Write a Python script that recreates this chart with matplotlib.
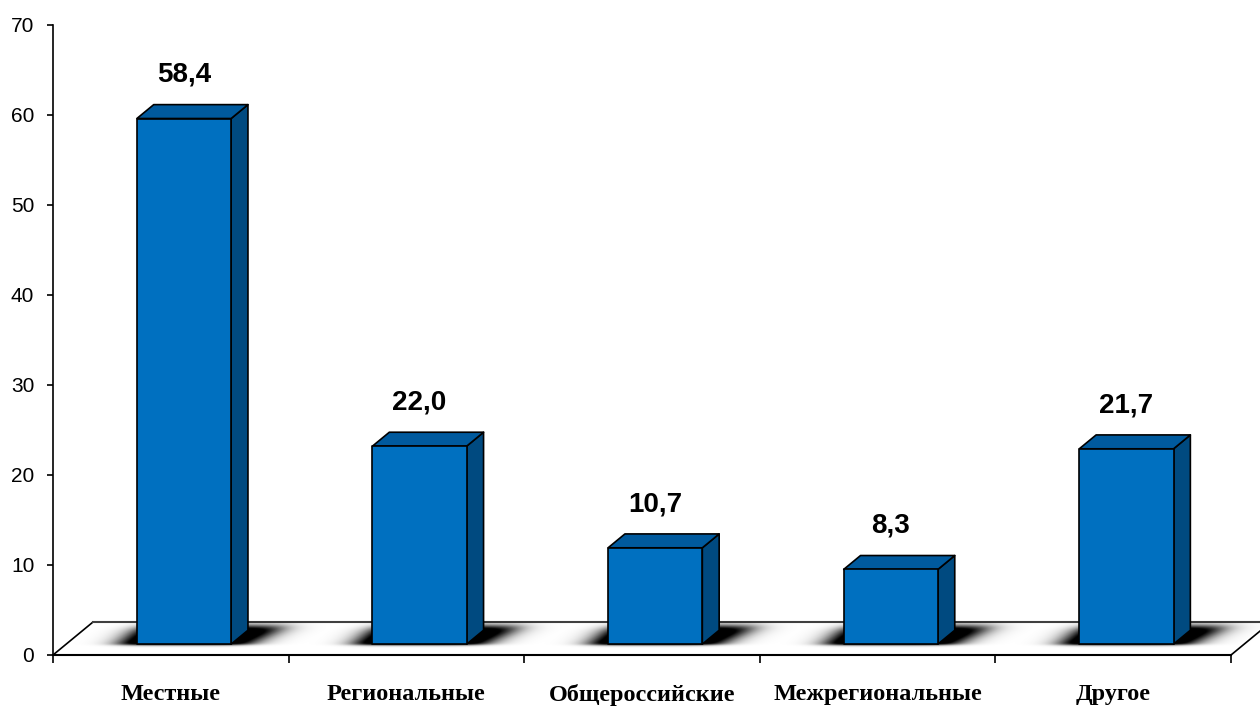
import numpy as np
import matplotlib
matplotlib.use('Agg')
import matplotlib.pyplot as plt
from matplotlib.patches import Polygon
from matplotlib.transforms import Affine2D

categories = ['Местные', 'Региональные', 'Общероссийские', 'Межрегиональные', 'Другое']
values = [58.4, 22.0, 10.7, 8.3, 21.7]
value_labels = ['58,4', '22,0', '10,7', '8,3', '21,7']
y_ticks = [0, 10, 20, 30, 40, 50, 60, 70]

col_front = '#0070c0'
col_top = '#005a9e'
col_side = '#004a80'

# depth of the "3d" floor in data units
DX = 0.17
DY = 3.67
d0, d1 = 0.33, 0.75   # bar front / back depth
half_w = 0.2


def sig(z):
    return 1.0 / (1.0 + np.exp(-z))


def main():
    fig = plt.figure(figsize=(12.6, 7.06), dpi=100)
    ax = fig.add_axes([53 / 1260, 51 / 706, 1178 / 1260, 630 / 706])
    n = len(categories)

    # floor
    floor = Polygon([(0, 0), (n, 0), (n + DX, DY), (DX, DY)], closed=True,
                    facecolor='white', edgecolor='black', linewidth=1.2,
                    zorder=1, clip_on=False)
    ax.add_patch(floor)
    ax.plot([DX, n + DX], [DY, DY], color='#404040', linewidth=1.5, zorder=1.1, clip_on=False)

    # soft shadows on the floor (image in (u, depth) space, sheared onto floor)
    u = np.linspace(0, n + 0.2, 1400)
    d = np.linspace(0, 1, 160)
    U, D = np.meshgrid(u, d)
    alpha = np.zeros_like(U)
    for i in range(n):
        c = i + 0.5
        right = c + 0.27 + 0.12 * (D - 0.3)
        a = sig((U - (c - 0.27)) / 0.035) * sig((right - U) / 0.04)
        a *= sig((D - 0.30) / 0.02) * sig((0.84 - D) / 0.06)
        alpha = np.maximum(alpha, a)
    rgba = np.zeros(U.shape + (4,))
    rgba[..., 3] = np.clip(alpha * 1.5, 0, 1)
    shear = Affine2D(np.array([[1, DX, 0], [0, DY, 0], [0, 0, 1]]))
    ax.imshow(rgba, extent=(u[0], u[-1], 0, 1), origin='lower', aspect='auto',
              interpolation='bilinear', transform=shear + ax.transData,
              zorder=2, clip_on=False)

    # bars
    for i, v in enumerate(values):
        c = i + 0.5
        u0, u1 = c - half_w, c + half_w
        front = [(u0 + d0 * DX, d0 * DY), (u1 + d0 * DX, d0 * DY),
                 (u1 + d0 * DX, v + d0 * DY), (u0 + d0 * DX, v + d0 * DY)]
        top = [(u0 + d0 * DX, v + d0 * DY), (u1 + d0 * DX, v + d0 * DY),
               (u1 + d1 * DX, v + d1 * DY), (u0 + d1 * DX, v + d1 * DY)]
        side = [(u1 + d0 * DX, d0 * DY), (u1 + d1 * DX, d1 * DY),
                (u1 + d1 * DX, v + d1 * DY), (u1 + d0 * DX, v + d0 * DY)]
        for pts, col in [(side, col_side), (top, col_top), (front, col_front)]:
            ax.add_patch(Polygon(pts, closed=True, facecolor=col, edgecolor='black',
                                 linewidth=1.2, joinstyle='round', zorder=3, clip_on=False))
        ax.annotate(value_labels[i], (c + d0 * DX, v + d1 * DY), xytext=(0, 12),
                    textcoords='offset points', ha='center', va='bottom',
                    fontsize=20, fontweight='bold', family='Liberation Sans', zorder=4)

    ax.set_xlim(0, n)
    ax.set_ylim(0, 70)

    ax.spines['top'].set_visible(False)
    ax.spines['right'].set_visible(False)
    ax.spines['left'].set_linewidth(1.2)
    ax.spines['bottom'].set_linewidth(1.5)
    ax.spines['left'].set_zorder(5)

    ax.set_yticks(y_ticks)
    ax.set_yticklabels([str(t) for t in y_ticks], family='Liberation Sans', fontsize=15)
    ax.tick_params(axis='y', direction='out', length=4.5, width=1.2, pad=9)

    ax.set_xticks(range(n + 1))
    ax.set_xticklabels([''] * (n + 1))
    ax.tick_params(axis='x', which='major', direction='out', length=6, width=1.2)
    ax.set_xticks([i + 0.5 for i in range(n)], minor=True)
    ax.set_xticklabels(categories, minor=True, family='Liberation Serif',
                       fontweight='bold', fontsize=17.5)
    ax.tick_params(axis='x', which='minor', length=0, pad=21)

    ax.set_facecolor('none')
    fig.savefig('out.png', dpi=100, facecolor='white')
    plt.close(fig)


if __name__ == "__main__":
    main()
